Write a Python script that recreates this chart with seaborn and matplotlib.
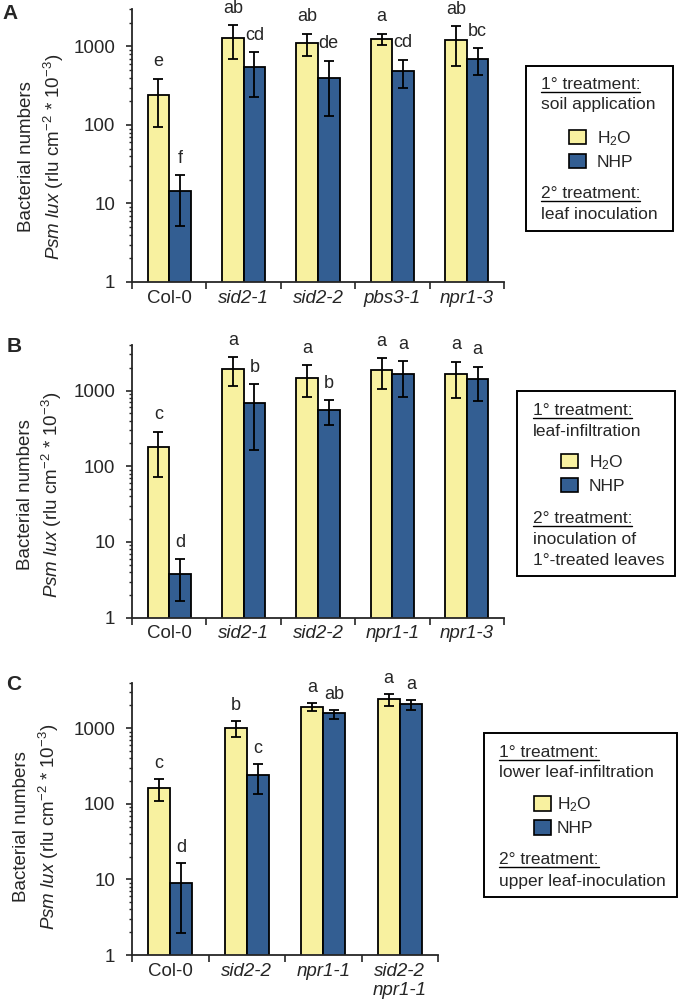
import numpy as np
import pandas as pd
import matplotlib
matplotlib.use("Agg")
import matplotlib.pyplot as plt
import seaborn as sns
from matplotlib.patches import Rectangle
from matplotlib.lines import Line2D
from matplotlib.ticker import NullFormatter, LogLocator

# ---------------- data ----------------
treatments = ["H$_2$O", "NHP"]

a_genotypes = ["Col-0", "sid2-1", "sid2-2", "pbs3-1", "npr1-3"]
a_h2o = [240, 1300, 1120, 1230, 1200]
a_h2o_hi = [390, 1850, 1450, 1450, 1800]
a_h2o_lo = [94, 700, 760, 1050, 570]
a_nhp = [14.3, 540, 400, 490, 700]
a_nhp_hi = [23, 840, 660, 680, 950]
a_nhp_lo = [5.2, 230, 130, 300, 430]
a_h2o_letters = ["e", "ab", "ab", "a", "ab"]
a_nhp_letters = ["f", "cd", "de", "cd", "bc"]

b_genotypes = ["Col-0", "sid2-1", "sid2-2", "npr1-1", "npr1-3"]
b_h2o = [178, 1950, 1480, 1870, 1640]
b_h2o_hi = [284, 2750, 2150, 2680, 2390]
b_h2o_lo = [72, 1140, 830, 1040, 800]
b_nhp = [3.74, 690, 550, 1640, 1415]
b_nhp_hi = [5.9, 1220, 740, 2440, 2070]
b_nhp_lo = [1.65, 164, 350, 815, 735]
b_h2o_letters = ["c", "a", "a", "a", "a"]
b_nhp_letters = ["d", "b", "b", "a", "a"]

c_genotypes = ["Col-0", "sid2-2", "npr1-1", "sid2-2\nnpr1-1"]
c_h2o = [163, 1016, 1910, 2400]
c_h2o_hi = [213, 1260, 2170, 2860]
c_h2o_lo = [109, 760, 1670, 1990]
c_nhp = [9.1, 240, 1575, 2070]
c_nhp_hi = [16.3, 340, 1760, 2360]
c_nhp_lo = [1.94, 133, 1336, 1725]
c_h2o_letters = ["c", "b", "a", "a"]
c_nhp_letters = ["d", "c", "ab", "a"]

ytick_values = [1, 10, 100, 1000]
ytick_labels = ["1", "10", "100", "1000"]

legend_a = ["1° treatment:", "soil application", "2° treatment:", "leaf inoculation"]
legend_b = ["1° treatment:", "leaf-infiltration", "2° treatment:", "inoculation of", "1°-treated leaves"]
legend_c = ["1° treatment:", "lower leaf-infiltration", "2° treatment:", "upper leaf-inoculation"]

ylabel = "Bacterial numbers\n$\\mathit{Psm\\ lux}$ (rlu cm$^{-2}$ * 10$^{-3}$)"

YELLOW = "#F8F1A0"
BLUE = "#335E92"

# ---------------- style ----------------
sns.set_style("ticks")
plt.rcParams["font.family"] = ["Liberation Sans", "DejaVu Sans"]
plt.rcParams["mathtext.fontset"] = "custom"
plt.rcParams["mathtext.rm"] = "Liberation Sans"
plt.rcParams["mathtext.it"] = "Liberation Sans:italic"
plt.rcParams["mathtext.bf"] = "Liberation Sans:bold"

W, H = 679, 1007
fig = plt.figure(figsize=(W / 100, H / 100), dpi=100)


def fax(x0, y0, x1, y1):
    return fig.add_axes([x0 / W, 1 - y1 / H, (x1 - x0) / W, (y1 - y0) / H])


def panel(ax, genos, h2o, h2o_hi, h2o_lo, nhp, nhp_hi, nhp_lo, l_h2o, l_nhp,
          ymax, letter_off):
    n = len(genos)
    df = pd.DataFrame({
        "genotype": genos * 2,
        "treatment": [treatments[0]] * n + [treatments[1]] * n,
        "value": h2o + nhp,
    })
    sns.barplot(data=df, x="genotype", y="value", hue="treatment",
                order=genos, hue_order=treatments,
                palette={treatments[0]: YELLOW, treatments[1]: BLUE},
                saturation=1, width=0.58, gap=0, errorbar=None,
                edgecolor="black", linewidth=1.3, log_scale=True, ax=ax)
    leg = ax.get_legend()
    handles = list(leg.legend_handles) if leg is not None else []
    if leg is not None:
        leg.remove()

    for cont, vals, hi, lo, letters in [
        (ax.containers[0], h2o, h2o_hi, h2o_lo, l_h2o),
        (ax.containers[1], nhp, nhp_hi, nhp_lo, l_nhp),
    ]:
        xs = [r.get_x() + r.get_width() / 2 for r in cont]
        v = np.array(vals, float)
        err = [v - np.array(lo, float), np.array(hi, float) - v]
        ax.errorbar(xs, v, yerr=err, fmt="none", ecolor="black",
                    elinewidth=1.3, capsize=3.8, capthick=1.3, zorder=5)
        for x, top, lab in zip(xs, hi, letters):
            ax.annotate(lab, xy=(x, top), xytext=(0, letter_off),
                        textcoords="offset points", ha="center",
                        va="baseline", fontsize=13)

    ax.set_yscale("log")
    ax.set_ylim(1, ymax)
    ax.set_xlim(-0.5, n - 0.5)
    ax.set_yticks(ytick_values, ytick_labels)
    ax.yaxis.set_minor_locator(LogLocator(base=10, subs=np.arange(2, 10)))
    ax.yaxis.set_minor_formatter(NullFormatter())
    ax.set_xticks(range(n))
    ax.set_xticklabels(genos)
    for t in ax.get_xticklabels():
        if t.get_text() != "Col-0":
            t.set_fontstyle("italic")
    ax.set_xticks(np.arange(-0.5, n), minor=True)
    ax.tick_params(axis="x", which="major", length=0, pad=5.5, labelsize=13.5)
    ax.tick_params(axis="x", which="minor", length=5, width=1.2,
                   direction="out", bottom=True)
    ax.tick_params(axis="y", which="major", length=4.5, width=1.2, pad=7.5,
                   labelsize=13.5)
    ax.tick_params(axis="y", which="minor", length=2.5, width=1.0)
    ax.set_xlabel("")
    ax.set_ylabel("")
    sns.despine(ax=ax)
    for s in ["left", "bottom"]:
        ax.spines[s].set_linewidth(1.3)
    for h, c in zip(handles, [YELLOW, BLUE]):
        h.set_facecolor(c)
        h.set_edgecolor("black")
        h.set_linewidth(1.2)
    return handles


axA = fax(132, 9, 504, 282)
axB = fax(132, 345, 504, 617.7)
axC = fax(132, 682.7, 438, 955)

hA = panel(axA, a_genotypes, a_h2o, a_h2o_hi, a_h2o_lo, a_nhp, a_nhp_hi,
           a_nhp_lo, a_h2o_letters, a_nhp_letters, 3000, 9)
hB = panel(axB, b_genotypes, b_h2o, b_h2o_hi, b_h2o_lo, b_nhp, b_nhp_hi,
           b_nhp_lo, b_h2o_letters, b_nhp_letters, 4000, 9)
hC = panel(axC, c_genotypes, c_h2o, c_h2o_hi, c_h2o_lo, c_nhp, c_nhp_hi,
           c_nhp_lo, c_h2o_letters, c_nhp_letters, 4000, 8)

# y labels
for ax, xc, yc in [(axA, 42, 157), (axB, 40.5, 495), (axC, 37, 826.6)]:
    fig.text(xc / W, 1 - yc / H, ylabel, rotation=90, ha="center",
             va="center", fontsize=13.5, linespacing=1.35,
             multialignment="center")

# panel letters
for lab, x, y in [("A", 2.5, 4), ("B", 6.5, 337), ("C", 6, 675)]:
    fig.text(x / W, 1 - y / H, lab, fontsize=15, fontweight="bold",
             ha="left", va="top")

# legend boxes
boxes = [
    ((526, 66, 673, 231), 540.7, legend_a, [89.3, 109.5, 198.3, 219.3], [0, 2], 569, 149.3, 0.6),
    ((517, 391, 675, 576), 532.7, legend_b, [415, 435.5, 523.3, 544, 565], [0, 2], 560.7, 473.3, 0.63),
    ((484, 733, 677, 897), 499, legend_c, [757, 777.3, 864, 885.7], [0, 2], 534, 815.9, 0.3),
]
ax_list = [axA, axB, axC]
handles_list = [hA, hB, hC]
underline_texts = []
for (bx, tx, texts, ybl, ul, sx, sy, pad), ax, hs in zip(boxes, ax_list, handles_list):
    x0, y0, x1, y1 = bx
    fig.add_artist(Rectangle((x0 / W, 1 - y1 / H), (x1 - x0) / W, (y1 - y0) / H,
                             transform=fig.transFigure, fill=False,
                             edgecolor="black", linewidth=1.4))
    for i, (t, yb) in enumerate(zip(texts, ybl)):
        tt = fig.text(tx / W, 1 - yb / H, t, fontsize=12.5, ha="left",
                      va="baseline")
        if i in ul:
            underline_texts.append((tt, yb))
    ax.legend(hs, treatments, loc="center left",
              bbox_to_anchor=(sx / W, 1 - sy / H),
              bbox_transform=fig.transFigure, frameon=False, fontsize=12.5,
              handlelength=1.0, handleheight=0.9, handletextpad=pad,
              labelspacing=0.35, borderpad=0, borderaxespad=0)

fig.canvas.draw()
renderer = fig.canvas.get_renderer()
for tt, yb in underline_texts:
    bb = tt.get_window_extent(renderer)
    yy = 1 - (yb + 2.5) / H
    fig.add_artist(Line2D([bb.x0 / W, bb.x1 / W], [yy, yy],
                          transform=fig.transFigure, color="black",
                          linewidth=1.0))

fig.savefig("out.png", dpi=100)
